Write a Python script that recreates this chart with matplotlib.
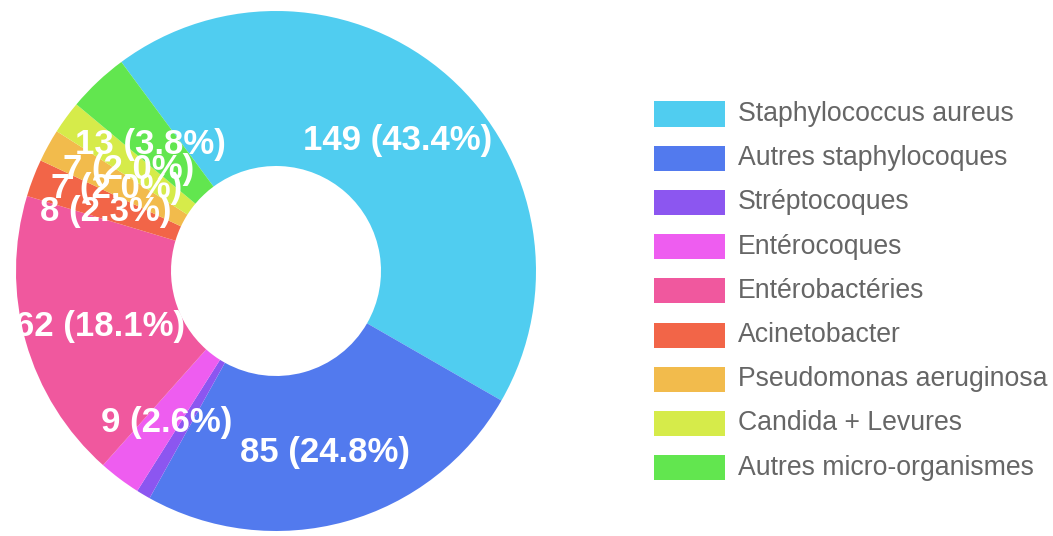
import matplotlib
matplotlib.use("Agg")
import matplotlib.pyplot as plt
import matplotlib.transforms as mtransforms
import numpy as np

categories = [
    "Staphylococcus aureus",
    "Autres staphylocoques",
    "Stréptocoques",
    "Entérocoques",
    "Entérobactéries",
    "Acinetobacter",
    "Pseudomonas aeruginosa",
    "Candida + Levures",
    "Autres micro-organismes",
]
counts = [149, 85, 3, 9, 62, 8, 7, 7, 13]
colors = [
    "#50CDF0",
    "#527AEE",
    "#8C56F0",
    "#EE5DF0",
    "#F0589E",
    "#F26548",
    "#F2BB4C",
    "#D6EB4A",
    "#62E64F",
]
# slices whose value label is hidden (too thin to hold text)
hidden_labels = ["Stréptocoques"]

W, H, DPI = 1053, 536, 100
fig = plt.figure(figsize=(W / DPI, H / DPI), dpi=DPI)
fig.patch.set_facecolor("white")

# donut geometry in pixels
cx, cy, R, r_in = 276, 271, 260, 105
ax = fig.add_axes([(cx - R) / W, (H - cy - R) / H, 2 * R / W, 2 * R / H])

ring = 1 - r_in / R
wedges, _ = ax.pie(
    counts,
    colors=colors,
    startangle=126.5,
    counterclock=False,
    radius=1,
    wedgeprops=dict(width=ring, edgecolor="none", linewidth=0),
)
ax.set_xlim(-1, 1)
ax.set_ylim(-1, 1)
ax.set_aspect("equal")
ax.axis("off")

# value labels sit at the middle of each ring segment
label_tf = mtransforms.offset_copy(ax.transData, fig=fig, x=0, y=-6, units="dots")
total = sum(counts)
mid_r = 1 - ring / 2
for w, name, n in zip(wedges, categories, counts):
    if name in hidden_labels:
        continue
    ang = np.deg2rad((w.theta1 + w.theta2) / 2)
    ax.text(
        mid_r * np.cos(ang), mid_r * np.sin(ang),
        f"{n} ({100 * n / total:.1f}%)",
        ha="center", va="center", color="white",
        fontsize=25, fontweight="bold", family="Liberation Sans",
        clip_on=False, transform=label_tf,
    )

# legend drawn as boxes + labels
box_x, box_w, box_h = 654, 71, 25
y0, step = 114, 44.2
for i, (name, c) in enumerate(zip(categories, colors)):
    yc = y0 + i * step
    fig.patches.append(plt.Rectangle(
        (box_x / W, (H - yc - box_h / 2) / H), box_w / W, box_h / H,
        transform=fig.transFigure, facecolor=c, edgecolor="none"))
    fig.text(738 / W, (H - yc) / H, name, ha="left", va="center",
             color="#666666", fontsize=19.2, family="Liberation Sans")

fig.savefig("out.png", dpi=DPI, facecolor="white")
